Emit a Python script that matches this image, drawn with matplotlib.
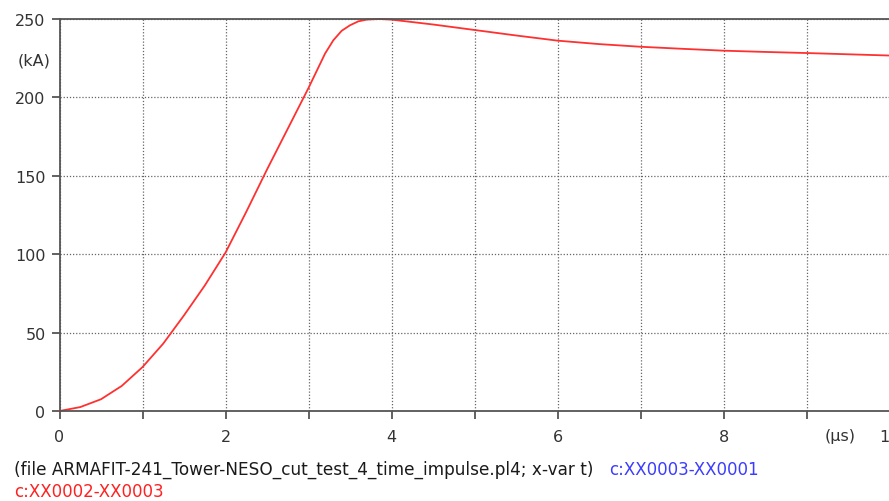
import matplotlib
matplotlib.use("Agg")
from matplotlib import pyplot as plt

# time (us) and current (kA)
t_us = [0, 0.25, 0.5, 0.75, 1, 1.25, 1.5, 1.75, 2, 2.25, 2.5, 2.75, 3, 3.1,
        3.2, 3.3, 3.4, 3.5, 3.6, 3.7, 3.85, 4, 4.5, 5, 5.5, 6, 6.5, 7, 7.5,
        8, 8.5, 9, 9.5, 10]
i_ka = [0, 2.5, 7.5, 16, 28, 43, 61, 80, 101, 127, 154, 180, 206, 217,
        228, 236.5, 242.5, 246, 248.5, 249.6, 250, 249.6, 246.5, 243, 239.5,
        236.2, 234, 232.3, 231, 229.8, 229, 228.3, 227.5, 226.7]

x_ticks = [0, 1, 2, 3, 4, 5, 6, 7, 8, 9, 10]
x_labels = ["0", "", "2", "", "4", "", "6", "", "8", "", "10"]
y_ticks = [0, 50, 100, 150, 200, 250]

caption = "(file ARMAFIT-241_Tower-NESO_cut_test_4_time_impulse.pl4; x-var t)"
trace_blue = "c:XX0003-XX0001"
trace_red = "c:XX0002-XX0003"

plt.rcParams["font.family"] = ["DejaVu Sans"]

fig = plt.figure(figsize=(8.89, 5.02), dpi=100)
ax = fig.add_axes([59.5 / 889, 90 / 502, 830 / 889, 392 / 502])

ax.plot(t_us, i_ka, color="#ff3030", lw=1.3, clip_on=False,
        solid_joinstyle="round")

ax.set_xlim(0, 10)
ax.set_ylim(0, 250)
ax.set_xticks(x_ticks)
ax.set_xticklabels(x_labels)
ax.set_yticks(y_ticks)
ax.grid(True, color="#666666", linestyle=(0, (1, 1.5)), lw=0.9)

spine_col = "#555555"
for s in ("left", "top", "bottom"):
    ax.spines[s].set_color(spine_col)
    ax.spines[s].set_linewidth(1.3)
ax.spines["right"].set_visible(False)
ax.tick_params(axis="both", colors=spine_col, labelcolor="#333333",
               labelsize=11.5, width=1.3, length=6, pad=4)
ax.tick_params(axis="x", pad=7)

ax.text(-0.0307, 0.895, "(kA)", transform=ax.transAxes, ha="center",
        va="center", fontsize=11.5, color="#333333")
ax.text(0.940, -0.0625, "(µs)", transform=ax.transAxes, ha="center",
        va="center", fontsize=11.5, color="#333333")

fig.text(14 / 889, 1 - 470 / 502, caption, ha="left", va="center",
         fontsize=12.2, color="#1a1a1a")
fig.text(609 / 889, 1 - 470 / 502, trace_blue, ha="left", va="center",
         fontsize=12, color="#3c3cff")
fig.text(14 / 889, 1 - 492 / 502, trace_red, ha="left", va="center",
         fontsize=12, color="#ff2020")

fig.savefig("out.png", dpi=100)
